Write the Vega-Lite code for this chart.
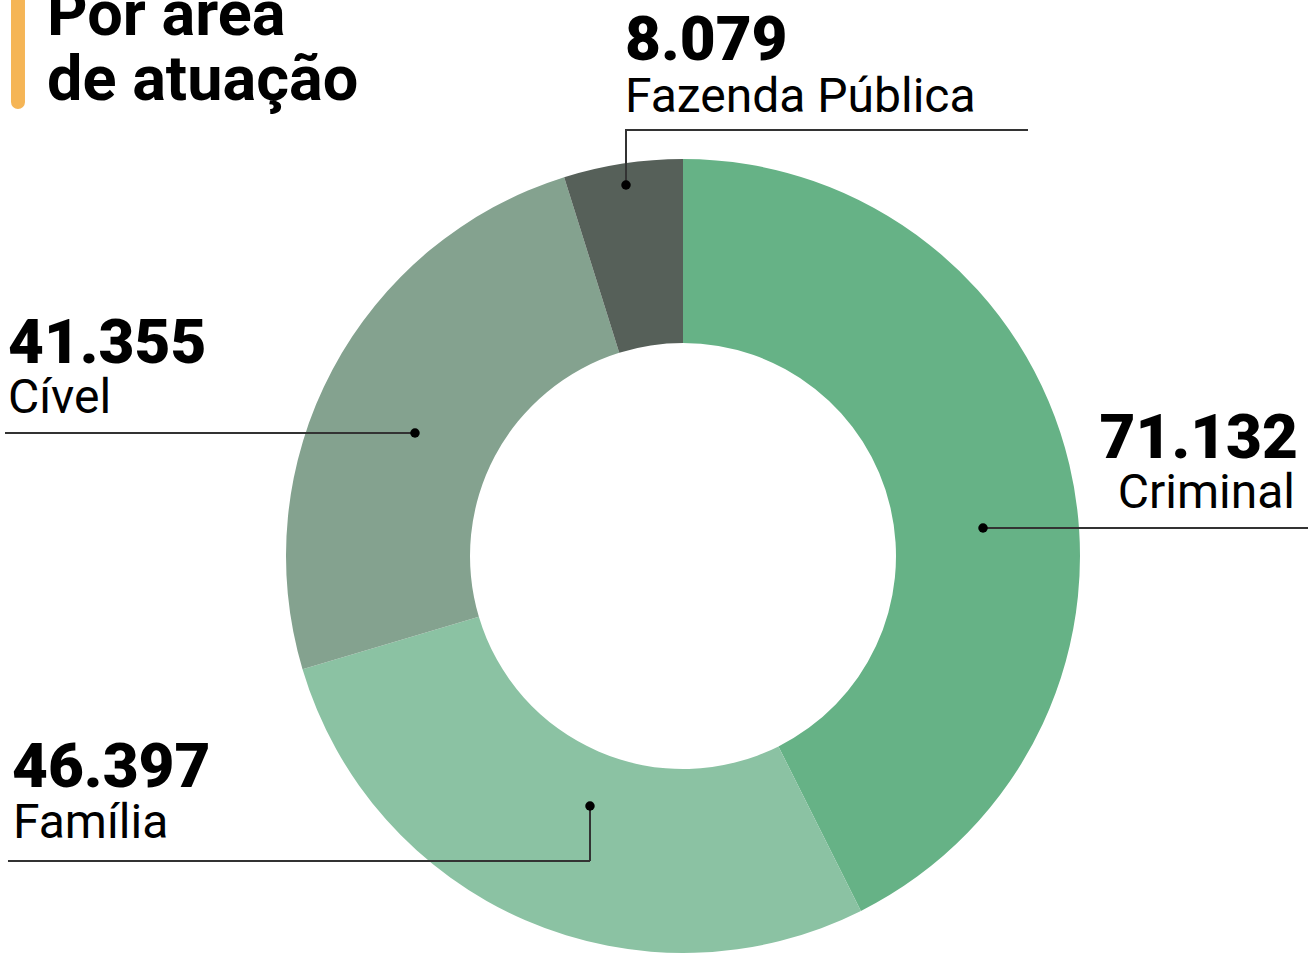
{
  "$schema": "https://vega.github.io/schema/vega-lite/v6.json",
  "width": 1308,
  "height": 953,
  "autosize": {"type": "none"},
  "padding": 0,
  "background": "white",
  "config": {"view": {"stroke": null}, "font": "Roboto"},
  "datasets": {
    "slices": [
      {"area": "Criminal", "value": 71132, "rank": 1},
      {"area": "Família", "value": 46397, "rank": 2},
      {"area": "Cível", "value": 41355, "rank": 3},
      {"area": "Fazenda Pública", "value": 8079, "rank": 4}
    ],
    "labels": [
      {"text": "Por área", "x": -1.602, "y": 1.3123, "kind": "title", "side": "left"},
      {"text": "de atuação", "x": -1.602, "y": 1.1486, "kind": "title", "side": "left"},
      {"text": "8.079", "x": -0.1461, "y": 1.2494, "kind": "num", "side": "left"},
      {"text": "Fazenda Pública", "x": -0.1461, "y": 1.1184, "kind": "name", "side": "left"},
      {"text": "41.355", "x": -1.7003, "y": 0.4862, "kind": "num", "side": "left"},
      {"text": "Cível", "x": -1.7003, "y": 0.3602, "kind": "name", "side": "left"},
      {"text": "71.132", "x": 1.5491, "y": 0.2469, "kind": "num", "side": "right"},
      {"text": "Criminal", "x": 1.5416, "y": 0.1209, "kind": "name", "side": "right"},
      {"text": "46.397", "x": -1.6902, "y": -0.5819, "kind": "num", "side": "left"},
      {"text": "Família", "x": -1.6877, "y": -0.7103, "kind": "name", "side": "left"}
    ],
    "rules": [
      {"x1": -0.1461, "x2": 0.869, "y1": 1.073, "y2": 1.073},
      {"x1": -0.1436, "x2": -0.1436, "y1": 1.073, "y2": 0.9345},
      {"x1": -1.7078, "x2": -0.6751, "y1": 0.3098, "y2": 0.3098},
      {"x1": 0.7557, "x2": 1.5743, "y1": 0.0705, "y2": 0.0705},
      {"x1": -1.7003, "x2": -0.2343, "y1": -0.7683, "y2": -0.7683},
      {"x1": -0.2343, "x2": -0.2343, "y1": -0.6297, "y2": -0.7683}
    ],
    "dots": [
      {"x": -0.1436, "y": 0.9345},
      {"x": -0.6751, "y": 0.3098},
      {"x": 0.7557, "y": 0.0705},
      {"x": -0.2343, "y": -0.6297}
    ],
    "bar": [
      {"x1": -1.6751, "x2": -1.6751, "y1": 1.45, "y2": 1.1436}
    ]
  },
  "layer": [
    {
      "data": {"name": "slices"},
      "mark": {"type": "arc", "outerRadius": 397, "innerRadius": 213},
      "encoding": {
        "x": {"datum": 0, "type": "quantitative", "scale": {"domain": [-1.7204, 1.5743], "zero": false, "nice": false}, "axis": null},
        "y": {"datum": 0, "type": "quantitative", "scale": {"domain": [-1.0, 1.4005], "zero": false, "nice": false}, "axis": null},
        "theta": {"field": "value", "type": "quantitative", "stack": true},
        "order": {"field": "rank", "type": "quantitative"},
        "color": {
          "field": "area", "type": "nominal", "legend": null,
          "scale": {"domain": ["Criminal", "Família", "Cível", "Fazenda Pública"], "range": ["#66b286", "#8bc2a3", "#84a28f", "#566059"]}
        }
      }
    },
    {
      "data": {"name": "bar"},
      "mark": {"type": "rule", "color": "#f5b556", "strokeWidth": 14, "strokeCap": "round"},
      "encoding": {
        "x": {"field": "x1", "type": "quantitative"},
        "x2": {"field": "x2"},
        "y": {"field": "y1", "type": "quantitative"},
        "y2": {"field": "y2"}
      }
    },
    {
      "data": {"name": "rules"},
      "mark": {"type": "rule", "color": "#333333", "strokeWidth": 2},
      "encoding": {
        "x": {"field": "x1", "type": "quantitative"},
        "x2": {"field": "x2"},
        "y": {"field": "y1", "type": "quantitative"},
        "y2": {"field": "y2"}
      }
    },
    {
      "data": {"name": "dots"},
      "mark": {"type": "point", "filled": true, "color": "#000000", "size": 90, "opacity": 1},
      "encoding": {
        "x": {"field": "x", "type": "quantitative"},
        "y": {"field": "y", "type": "quantitative"}
      }
    },
    {
      "data": {"name": "labels"},
      "transform": [{"filter": "datum.kind == 'title'"}],
      "mark": {"type": "text", "align": "left", "baseline": "alphabetic", "fontSize": 63, "fontWeight": "bold", "color": "#000000"},
      "encoding": {
        "x": {"field": "x", "type": "quantitative"},
        "y": {"field": "y", "type": "quantitative"},
        "text": {"field": "text"}
      }
    },
    {
      "data": {"name": "labels"},
      "transform": [{"filter": "datum.kind == 'num' && datum.side == 'left'"}],
      "mark": {"type": "text", "align": "left", "baseline": "alphabetic", "fontSize": 62, "fontWeight": 900, "color": "#000000"},
      "encoding": {
        "x": {"field": "x", "type": "quantitative"},
        "y": {"field": "y", "type": "quantitative"},
        "text": {"field": "text"}
      }
    },
    {
      "data": {"name": "labels"},
      "transform": [{"filter": "datum.kind == 'num' && datum.side == 'right'"}],
      "mark": {"type": "text", "align": "right", "baseline": "alphabetic", "fontSize": 62, "fontWeight": 900, "color": "#000000"},
      "encoding": {
        "x": {"field": "x", "type": "quantitative"},
        "y": {"field": "y", "type": "quantitative"},
        "text": {"field": "text"}
      }
    },
    {
      "data": {"name": "labels"},
      "transform": [{"filter": "datum.kind == 'name' && datum.side == 'left'"}],
      "mark": {"type": "text", "align": "left", "baseline": "alphabetic", "fontSize": 48, "fontWeight": "normal", "color": "#000000"},
      "encoding": {
        "x": {"field": "x", "type": "quantitative"},
        "y": {"field": "y", "type": "quantitative"},
        "text": {"field": "text"}
      }
    },
    {
      "data": {"name": "labels"},
      "transform": [{"filter": "datum.kind == 'name' && datum.side == 'right'"}],
      "mark": {"type": "text", "align": "right", "baseline": "alphabetic", "fontSize": 48, "fontWeight": "normal", "color": "#000000"},
      "encoding": {
        "x": {"field": "x", "type": "quantitative"},
        "y": {"field": "y", "type": "quantitative"},
        "text": {"field": "text"}
      }
    }
  ]
}
